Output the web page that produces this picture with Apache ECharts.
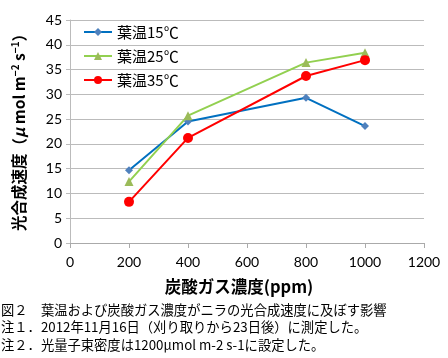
<!DOCTYPE html>
<html><head><meta charset="utf-8">
<script src="https://cdn.jsdelivr.net/npm/echarts@6/dist/echarts.min.js"></script>
<style>html,body{margin:0;padding:0;background:#fff}#c{width:448px;height:358px}</style>
</head><body><div id="c"></div>
<script>
const xValues = [200, 400, 800, 1000];
const seriesNames = ['葉温15℃', '葉温25℃', '葉温35℃'];
const temp15 = [14.7, 24.5, 29.3, 23.6];
const temp25 = [12.4, 25.7, 36.4, 38.4];
const temp35 = [8.3, 21.2, 33.7, 36.9];
const captions = [
  '図２　葉温および炭酸ガス濃度がニラの光合成速度に及ぼす影響',
  '注１．2012年11月16日（刈り取りから23日後）に測定した。',
  '注２．光量子束密度は1200μmol m-2 s-1に設定した。'
];
const jp = '"Noto Sans CJK JP", sans-serif';
const lat = 'Lato, "Noto Sans CJK JP", sans-serif';
function pairs(v){ return xValues.map((x,i)=>[x, v[i]]); }
const chart = echarts.init(document.getElementById('c'));
chart.setOption({
  animation: false,
  grid: {left: 70, right: 24, top: 20, bottom: 115},
  legend: {
    orient: 'vertical', left: 78, top: 18, itemGap: 6, itemWidth: 28, itemHeight: 10,
    textStyle: {fontFamily: jp, fontSize: 15, color: '#000', lineHeight: 18, height: 18},
    data: seriesNames
  },
  xAxis: {
    type: 'value', min: 0, max: 1200, interval: 200,
    name: '炭酸ガス濃度(ppm)', nameLocation: 'middle', nameGap: 35,
    nameTextStyle: {fontFamily: jp, fontSize: 16.5, fontWeight: 'bold', color: '#000', padding: [0, 16, 0, 0]},
    axisLine: {lineStyle: {color: '#aaa'}},
    axisTick: {show: true, length: 5, lineStyle: {color: '#aaa'}},
    axisLabel: {fontFamily: lat, fontSize: 14, color: '#000', margin: 12, formatter: v => String(v)},
    splitLine: {show: false}
  },
  yAxis: {
    type: 'value', min: 0, max: 45, interval: 5,
    name: '{b|光合成速度（}{i|μ}{b| mol m}{s|−2}{b| s}{s|−1}{b|）}',
    nameLocation: 'middle', nameGap: 42,
    nameTextStyle: {
      padding: [0, 0, 0, 6],
      rich: {
        b: {fontFamily: jp, fontSize: 15.5, fontWeight: 'bold', color: '#000'},
        i: {fontFamily: jp, fontSize: 15.5, fontWeight: 'bold', fontStyle: 'italic', color: '#000'},
        s: {fontFamily: jp, fontSize: 10, fontWeight: 'bold', color: '#000', verticalAlign: 'top', padding: [0,0,8,0]}
      }
    },
    axisLine: {show: true, lineStyle: {color: '#bbb'}},
    axisTick: {show: true, length: 4, lineStyle: {color: '#bbb'}},
    axisLabel: {fontFamily: lat, fontSize: 14, color: '#000', margin: 8},
    splitLine: {lineStyle: {color: '#bbb', width: 1}}
  },
  series: [
    {name: seriesNames[0], type: 'line', data: pairs(temp15), symbol: 'diamond', symbolSize: 8,
     lineStyle: {color: '#0070C0', width: 2}, itemStyle: {color: '#4F81BD'}},
    {name: seriesNames[1], type: 'line', data: pairs(temp25), symbol: 'triangle', symbolSize: 9,
     lineStyle: {color: '#92D050', width: 2}, itemStyle: {color: '#9BBB59'}},
    {name: seriesNames[2], type: 'line', data: pairs(temp35), symbol: 'circle', symbolSize: 10,
     lineStyle: {color: '#FF0000', width: 2}, itemStyle: {color: '#FF0000'}}
  ],
  graphic: captions.map((t, i) => ({
    type: 'text', left: 1, top: 303 + i * 17.5,
    style: {text: t, font: '13.3px "Noto Sans CJK JP", sans-serif', fill: '#000'}
  }))
});
</script></body></html>
